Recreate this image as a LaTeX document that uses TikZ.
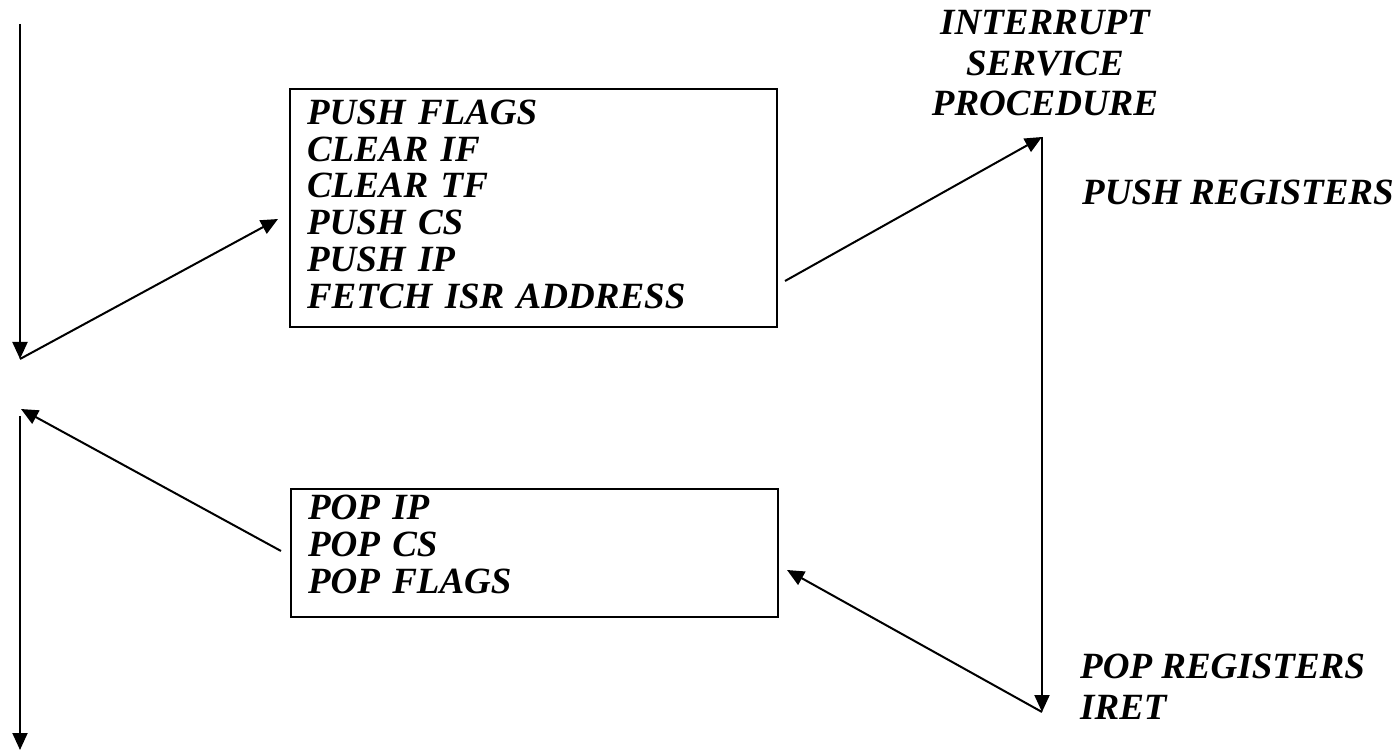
\documentclass[tikz,border=0pt]{standalone}
\usepackage{fontspec}
\setmainfont{Liberation Serif}
\usetikzlibrary{arrows.meta}
\begin{document}
\begin{tikzpicture}[x=1pt,y=-1pt,
  flow/.style={line width=2pt, -{Triangle[length=17pt,width=15pt]}},
  txt/.style={font=\fontsize{37}{36.8}\selectfont\bfseries\itshape},
  stepbox/.style={txt, draw, line width=2pt, anchor=north west, align=left,
    text width=453pt, inner xsep=17pt, inner ysep=0pt},
  lbl/.style={txt, inner sep=0pt}]
\useasboundingbox (0,0) rectangle (1398,751);

% hardware steps on entry and on return (extra depth lifts the lines a little)
\node[stepbox, minimum height=238pt, text depth=192pt] (entry) at (289,88)
  {PUSH FLAGS\\CLEAR IF\\CLEAR TF\\PUSH CS\\PUSH IP\\FETCH ISR ADDRESS};
\node[stepbox, minimum height=128pt, text depth=91.6pt] (exit) at (290,488)
  {POP IP\\POP CS\\POP FLAGS};

% service procedure labels (base anchor sits on the last line)
\node[lbl, align=center, anchor=base, font=\fontsize{37}{40.5}\selectfont\bfseries\itshape]
  (isr) at (1045,116) {INTERRUPT\\SERVICE\\PROCEDURE};
\node[lbl, anchor=base west] (pushreg) at (1082,205) {PUSH REGISTERS};
\node[lbl, align=left, anchor=base west, font=\fontsize{37}{41}\selectfont\bfseries\itshape]
  (popreg) at (1080,719) {POP REGISTERS\\IRET};

% points of the program flow
\coordinate (start)  at (20,24);
\coordinate (irq)    at (20,359);
\coordinate (back)   at (21,409);
\coordinate (cont)   at (20,416);
\coordinate (finish) at (20,750);
\coordinate (isrtop) at (1042,137);
\coordinate (isrend) at (1042,712);

% main program, interrupt entry, service routine and return
\draw[flow] (start) -- (irq);
\draw[flow] (irq) -- ([xshift=-11pt,yshift=-11pt]entry.west);
\draw[flow] ([xshift=7pt,yshift=-73pt]entry.east) -- (isrtop);
\draw[flow] (isrtop) -- (isrend);
\draw[flow] (isrend) -- ([xshift=8pt,yshift=-17pt]exit.east);
\draw[flow] ([xshift=-9pt,yshift=2pt]exit.west) -- (back);
\draw[flow] (cont) -- (finish);
\end{tikzpicture}
\end{document}
